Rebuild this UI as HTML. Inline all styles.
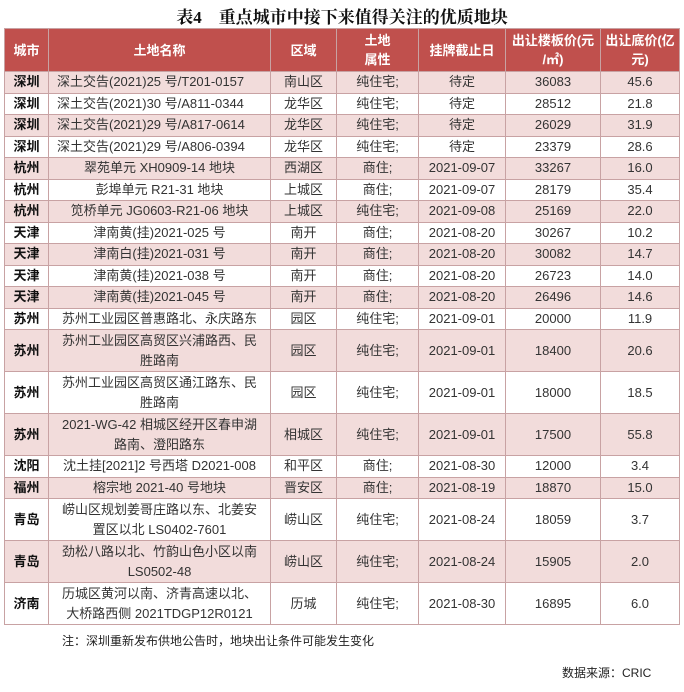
<!DOCTYPE html>
<html><head><meta charset="utf-8"><style>
body{margin:0;width:684px;height:692px;background:#fff;position:relative;overflow:hidden;font-family:"Liberation Sans","Noto Sans CJK SC",sans-serif;color:#333}
.title{position:absolute;top:3px;left:0;width:684px;text-align:center;font-family:"Liberation Serif","Noto Serif CJK SC",serif;font-weight:bold;font-size:17px;color:#111}
table{position:absolute;left:4px;top:28px;border-collapse:collapse;table-layout:fixed;width:675px;font-size:13px}
td,th{border:1px solid #c8a2a3;text-align:center;padding:0 2px;line-height:20px;overflow:hidden;white-space:nowrap}
th{background:#c0504d;color:#fff;font-weight:bold;height:42px;line-height:19px;font-size:13px}
td.c{font-weight:bold;color:#111}
tr.r td{height:20.5px}
tr.t td{height:41px;white-space:normal;line-height:19.5px}
tr.p td{background:#f2dcdb}
td.l{text-align:left;padding-left:8px}
.note{position:absolute;left:62px;top:632px;font-size:12px;color:#222}
.src{position:absolute;left:562px;top:664px;font-size:12px;color:#222}
</style></head><body>
<div class="title">表4　重点城市中接下来值得关注的优质地块</div>
<table>
<colgroup><col style="width:44px"><col style="width:222px"><col style="width:66px"><col style="width:82px"><col style="width:87px"><col style="width:95px"><col style="width:79px"></colgroup>
<tr><th>城市</th><th>土地名称</th><th>区域</th><th>土地<br>属性</th><th>挂牌截止日</th><th>出让楼板价(元<br>/㎡)</th><th>出让底价(亿<br>元)</th></tr>
<tr class="r p"><td class="c">深圳</td><td class="l">深土交告(2021)25 号/T201-0157</td><td>南山区</td><td>纯住宅;</td><td>待定</td><td>36083</td><td>45.6</td></tr>
<tr class="r"><td class="c">深圳</td><td class="l">深土交告(2021)30 号/A811-0344</td><td>龙华区</td><td>纯住宅;</td><td>待定</td><td>28512</td><td>21.8</td></tr>
<tr class="r p"><td class="c">深圳</td><td class="l">深土交告(2021)29 号/A817-0614</td><td>龙华区</td><td>纯住宅;</td><td>待定</td><td>26029</td><td>31.9</td></tr>
<tr class="r"><td class="c">深圳</td><td class="l">深土交告(2021)29 号/A806-0394</td><td>龙华区</td><td>纯住宅;</td><td>待定</td><td>23379</td><td>28.6</td></tr>
<tr class="r p"><td class="c">杭州</td><td>翠苑单元 XH0909-14 地块</td><td>西湖区</td><td>商住;</td><td>2021-09-07</td><td>33267</td><td>16.0</td></tr>
<tr class="r"><td class="c">杭州</td><td>彭埠单元 R21-31 地块</td><td>上城区</td><td>商住;</td><td>2021-09-07</td><td>28179</td><td>35.4</td></tr>
<tr class="r p"><td class="c">杭州</td><td>笕桥单元 JG0603-R21-06 地块</td><td>上城区</td><td>纯住宅;</td><td>2021-09-08</td><td>25169</td><td>22.0</td></tr>
<tr class="r"><td class="c">天津</td><td>津南黄(挂)2021-025 号</td><td>南开</td><td>商住;</td><td>2021-08-20</td><td>30267</td><td>10.2</td></tr>
<tr class="r p"><td class="c">天津</td><td>津南白(挂)2021-031 号</td><td>南开</td><td>商住;</td><td>2021-08-20</td><td>30082</td><td>14.7</td></tr>
<tr class="r"><td class="c">天津</td><td>津南黄(挂)2021-038 号</td><td>南开</td><td>商住;</td><td>2021-08-20</td><td>26723</td><td>14.0</td></tr>
<tr class="r p"><td class="c">天津</td><td>津南黄(挂)2021-045 号</td><td>南开</td><td>商住;</td><td>2021-08-20</td><td>26496</td><td>14.6</td></tr>
<tr class="r"><td class="c">苏州</td><td>苏州工业园区普惠路北、永庆路东</td><td>园区</td><td>纯住宅;</td><td>2021-09-01</td><td>20000</td><td>11.9</td></tr>
<tr class="t p"><td class="c">苏州</td><td>苏州工业园区高贸区兴浦路西、民<br>胜路南</td><td>园区</td><td>纯住宅;</td><td>2021-09-01</td><td>18400</td><td>20.6</td></tr>
<tr class="t"><td class="c">苏州</td><td>苏州工业园区高贸区通江路东、民<br>胜路南</td><td>园区</td><td>纯住宅;</td><td>2021-09-01</td><td>18000</td><td>18.5</td></tr>
<tr class="t p"><td class="c">苏州</td><td>2021-WG-42 相城区经开区春申湖<br>路南、澄阳路东</td><td>相城区</td><td>纯住宅;</td><td>2021-09-01</td><td>17500</td><td>55.8</td></tr>
<tr class="r"><td class="c">沈阳</td><td>沈土挂[2021]2 号西塔 D2021-008</td><td>和平区</td><td>商住;</td><td>2021-08-30</td><td>12000</td><td>3.4</td></tr>
<tr class="r p"><td class="c">福州</td><td>榕宗地 2021-40 号地块</td><td>晋安区</td><td>商住;</td><td>2021-08-19</td><td>18870</td><td>15.0</td></tr>
<tr class="t"><td class="c">青岛</td><td>崂山区规划姜哥庄路以东、北姜安<br>置区以北 LS0402-7601</td><td>崂山区</td><td>纯住宅;</td><td>2021-08-24</td><td>18059</td><td>3.7</td></tr>
<tr class="t p"><td class="c">青岛</td><td>劲松八路以北、竹韵山色小区以南<br>LS0502-48</td><td>崂山区</td><td>纯住宅;</td><td>2021-08-24</td><td>15905</td><td>2.0</td></tr>
<tr class="t"><td class="c">济南</td><td>历城区黄河以南、济青高速以北、<br>大桥路西侧 2021TDGP12R0121</td><td>历城</td><td>纯住宅;</td><td>2021-08-30</td><td>16895</td><td>6.0</td></tr>
</table>
<div class="note">注：深圳重新发布供地公告时，地块出让条件可能发生变化</div>
<div class="src">数据来源：CRIC</div>
</body></html>
